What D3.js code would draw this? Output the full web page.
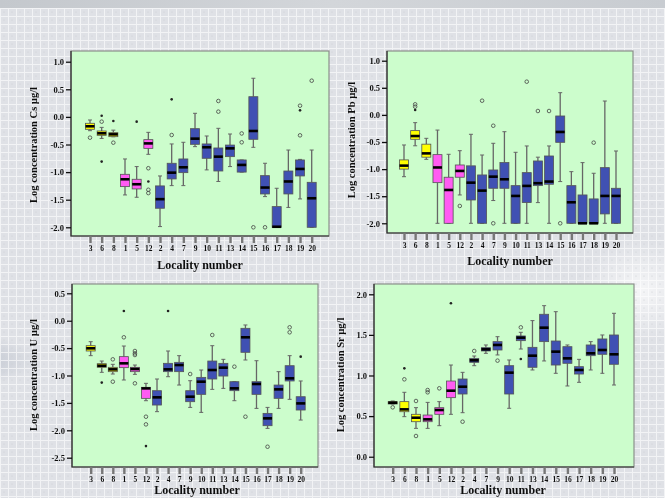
<!DOCTYPE html>
<html><head><meta charset="utf-8">
<script src="https://cdn.jsdelivr.net/npm/d3@7"></script>
<style>html,body{margin:0;padding:0;background:#dfe3ea;}svg{display:block;}</style>
</head><body>
<svg id="c" width="665" height="498"></svg>
<script>
// ---------- DATA ----------
const localities = ["3","6","8","1","5","12","2","4","7","9","10","11","13","14","15","16","17","18","19","20"];
const groups = ["A","A","A","B","B","B","C","C","C","C","C","C","C","C","C","C","C","C","C","C"];

// [lowWhisker, q1, median, q3, highWhisker]
const csStats = [
  [-0.25,-0.225,-0.17,-0.116,-0.056],[-0.39,-0.334,-0.297,-0.255,-0.19],[-0.36,-0.358,-0.316,-0.285,-0.24],
  [-1.414,-1.263,-1.13,-1.04,-0.762],[-1.456,-1.305,-1.22,-1.13,-0.90],[-0.678,-0.57,-0.48,-0.412,-0.28],
  [-1.987,-1.655,-1.49,-1.25,-1.07],[-1.245,-1.124,-1.01,-0.84,-0.49],[-1.245,-1.01,-0.913,-0.762,-0.46],
  [-0.539,-0.497,-0.394,-0.213,0.065],[-0.96,-0.75,-0.55,-0.49,-0.346],[-1.17,-0.98,-0.72,-0.563,-0.207],
  [-0.90,-0.72,-0.57,-0.51,-0.31],[-1.0,-1.0,-0.87,-0.78,-0.78],[-0.551,-0.406,-0.255,0.366,0.70],
  [-1.444,-1.396,-1.28,-1.064,-0.84],[-2.0,-2.0,-1.99,-1.625,-1.293],[-1.64,-1.396,-1.17,-0.98,-0.60],
  [-1.486,-1.07,-0.943,-0.78,-0.77],[-2.0,-2.0,-1.474,-1.185,-0.60]
];
const csOut = [[0,-0.376,"o"],[1,0.022,"*"],[1,-0.086,"o"],[1,-0.81,"*"],[2,-0.074,"*"],[2,-0.467,"o"],
  [4,-0.086,"*"],[5,-0.93,"o"],[5,-1.17,"*"],[5,-1.32,"o"],[5,-1.38,"o"],[7,0.318,"*"],[7,-0.328,"o"],
  [11,0.288,"o"],[11,0.095,"o"],[13,-0.30,"o"],[13,-0.46,"o"],[14,-2.0,"o"],[15,-2.0,"o"],
  [18,0.203,"o"],[18,0.119,"*"],[18,-0.334,"o"],[19,0.656,"o"]];

const pbStats = [
  [-1.14,-1.0,-0.936,-0.83,-0.555],[-0.57,-0.45,-0.39,-0.29,-0.143],[-0.82,-0.78,-0.71,-0.54,-0.432],
  [-2.0,-1.25,-0.97,-0.733,-0.28],[-2.0,-2.0,-1.385,-1.15,-0.727],[-1.477,-1.15,-1.034,-0.924,-0.66],
  [-2.0,-1.57,-1.25,-0.94,-0.358],[-2.0,-2.0,-1.397,-1.108,-0.74],[-1.58,-1.354,-1.139,-1.016,-0.524],
  [-2.0,-1.354,-1.188,-0.88,-0.31],[-2.0,-2.0,-1.495,-1.305,-0.69],[-2.0,-1.618,-1.31,-1.065,-0.573],
  [-1.618,-1.305,-1.26,-0.85,-0.78],[-2.0,-1.28,-1.23,-0.758,-0.573],[-1.23,-0.506,-0.315,-0.02,0.41],
  [-2.0,-2.0,-1.612,-1.305,-1.047],[-2.0,-2.0,-2.0,-1.477,-0.88],[-2.0,-2.0,-2.0,-1.55,-1.077],
  [-2.0,-1.827,-1.495,-0.973,0.256],[-2.0,-2.0,-1.495,-1.354,-0.666]
];
const pbOut = [[1,0.195,"o"],[1,0.152,"o"],[1,0.09,"*"],[5,-1.68,"o"],[7,0.262,"o"],[8,-0.2,"o"],[8,-2.0,"o"],
  [11,0.613,"o"],[12,0.072,"o"],[13,0.072,"o"],[14,-2.0,"o"],[17,-0.512,"o"]];

const uStats = [
  [-0.638,-0.553,-0.504,-0.456,-0.383],[-0.942,-0.851,-0.821,-0.784,-0.736],[-0.973,-0.93,-0.888,-0.851,-0.796],
  [-1.082,-0.857,-0.778,-0.656,-0.462],[-0.979,-0.93,-0.882,-0.851,-0.809],[-1.46,-1.417,-1.235,-1.216,-1.143],
  [-1.66,-1.539,-1.399,-1.277,-1.064],[-1.022,-0.93,-0.888,-0.778,-0.553],[-1.174,-0.93,-0.809,-0.76,-0.638],
  [-1.582,-1.478,-1.387,-1.277,-1.095],[-1.673,-1.344,-1.113,-1.034,-0.9],[-1.253,-1.064,-0.9,-0.736,-0.456],
  [-1.235,-1.01,-0.857,-0.778,-0.705],[-1.46,-1.277,-1.235,-1.113,-1.113],[-0.717,-0.577,-0.303,-0.139,-0.078],
  [-1.6,-1.344,-1.155,-1.113,-0.73],[-1.965,-1.916,-1.782,-1.691,-1.582],[-1.6,-1.417,-1.253,-1.174,-0.93],
  [-1.435,-1.1,-1.052,-0.821,-0.638],[-1.813,-1.63,-1.509,-1.387,-1.1]
];
const uOut = [[1,-1.13,"*"],[2,-0.705,"o"],[2,-1.113,"o"],[3,0.177,"*"],[3,-0.303,"o"],[4,-0.553,"o"],[4,-0.596,"o"],
  [4,-0.626,"o"],[4,-1.143,"o"],[5,-1.752,"o"],[5,-1.892,"o"],[5,-2.288,"*"],[7,0.177,"*"],[9,-0.973,"o"],
  [11,-0.261,"o"],[13,-0.839,"o"],[14,-1.752,"o"],[16,-2.3,"o"],[18,-0.121,"o"],[18,-0.212,"o"],[19,-0.656,"*"]];

const srStats = [
  [0.649,0.649,0.665,0.678,0.686],[0.493,0.554,0.583,0.678,0.793],[0.349,0.431,0.48,0.522,0.604],
  [0.349,0.431,0.46,0.513,0.669],[0.382,0.522,0.575,0.604,0.678],[0.522,0.727,0.813,0.932,1.129],
  [0.542,0.772,0.862,0.957,1.039],[1.121,1.162,1.187,1.211,1.24],[1.273,1.302,1.322,1.343,1.376],
  [1.253,1.314,1.376,1.417,1.478],[0.596,0.772,1.035,1.121,1.191],[1.326,1.429,1.466,1.487,1.532],
  [1.068,1.101,1.244,1.347,1.676],[1.179,1.417,1.589,1.754,1.86],[1.027,1.129,1.294,1.425,1.786],
  [0.871,1.15,1.211,1.355,1.376],[0.916,1.018,1.068,1.109,1.199],[1.068,1.244,1.273,1.376,1.417],
  [1.027,1.261,1.314,1.45,1.499],[0.883,1.138,1.261,1.499,1.766]
];
const srOut = [[0,0.608,"o"],[1,1.088,"*"],[1,0.953,"o"],[2,0.686,"o"],[2,0.255,"o"],[3,0.821,"o"],[3,0.793,"o"],
  [4,0.842,"o"],[5,1.889,"*"],[6,0.431,"o"],[7,1.302,"o"],[9,1.183,"o"],[11,1.593,"o"],[11,1.203,"*"]];

const csTicks = [-2.0,-1.5,-1.0,-0.5,0.0,0.5,1.0];
const pbTicks = [-2.0,-1.5,-1.0,-0.5,0.0,0.5,1.0];
const uTicks = [-2.5,-2.0,-1.5,-1.0,-0.5,0.0,0.5];
const srTicks = [0.0,0.5,1.0,1.5,2.0];

const yLabels = ["Log concentration Cs µg/l","Log concentration Pb µg/l","Log concentration U µg/l","Log concentration Sr µg/l"];
const xTitle = "Locality number";

// ---------- STYLE / LAYOUT ----------
const colors = {A:"#ffff00", B:"#ff5cf2", C:"#3f51b3"};
const panels = [
  {stats:csStats, out:csOut, ticks:csTicks, ylab:yLabels[0], rect:[71,51,258,185], yPix:[227.3,61.7], xr:[90,311.7], tx:200, ty:269, lx:35, ly:145},
  {stats:pbStats, out:pbOut, ticks:pbTicks, ylab:yLabels[1], rect:[387,51,246,182], yPix:[223.3,60.7], xr:[404,616], tx:510, ty:265, lx:353, ly:140},
  {stats:uStats, out:uOut, ticks:uTicks, ylab:yLabels[2], rect:[72,284,246,183], yPix:[457.7,293.3], xr:[90.7,300.7], tx:197, ty:494, lx:35, ly:375},
  {stats:srStats, out:srOut, ticks:srTicks, ylab:yLabels[3], rect:[374,284,260,183], yPix:[456.7,294.3], xr:[392.7,614], tx:503, ty:494, lx:342, ly:375}
];

const svg = d3.select("#c");
const defs = svg.append("defs");
// background texture
const pat = defs.append("pattern").attr("id","grid").attr("width",8).attr("height",8).attr("patternUnits","userSpaceOnUse");
pat.append("rect").attr("width",8).attr("height",8).attr("fill","none");
pat.append("path").attr("d","M0,0.5H8M0.5,0V8").attr("stroke","#ffffff").attr("stroke-width",1).attr("opacity",0.6);
pat.append("circle").attr("cx",4).attr("cy",4).attr("r",0.6).attr("fill","#c9ccd2");
const rg1 = defs.append("radialGradient").attr("id","cl1").attr("cx","0").attr("cy","0.5").attr("r","0.5");
rg1.append("stop").attr("offset","0").attr("stop-color","#96a0b2").attr("stop-opacity",0.75);
rg1.append("stop").attr("offset","1").attr("stop-color","#96a0b2").attr("stop-opacity",0);
const rg2 = defs.append("radialGradient").attr("id","cl2").attr("cx","0.5").attr("cy","0.5").attr("r","0.5");
rg2.append("stop").attr("offset","0").attr("stop-color","#ffffff").attr("stop-opacity",0.7);
rg2.append("stop").attr("offset","1").attr("stop-color","#ffffff").attr("stop-opacity",0);
const lg = defs.append("linearGradient").attr("id","topband").attr("x1",0).attr("x2",1);
lg.append("stop").attr("offset","0").attr("stop-color","#c4c8cd");
lg.append("stop").attr("offset","0.5").attr("stop-color","#d3d6da");
lg.append("stop").attr("offset","1").attr("stop-color","#c8ccd1");
const blur = defs.append("filter").attr("id","soft").attr("x","-5%").attr("y","-5%").attr("width","110%").attr("height","110%");
blur.append("feGaussianBlur").attr("stdDeviation",0.45);

svg.append("rect").attr("width",665).attr("height",498).attr("fill","#dfe1e6");
svg.append("ellipse").attr("cx",0).attr("cy",250).attr("rx",70).attr("ry",150).attr("fill","url(#cl1)");
svg.append("ellipse").attr("cx",40).attr("cy",360).attr("rx",120).attr("ry",30).attr("fill","url(#cl1)");
svg.append("ellipse").attr("cx",640).attr("cy",290).attr("rx",60).attr("ry",50).attr("fill","url(#cl2)");
svg.append("rect").attr("width",665).attr("height",498).attr("fill","url(#grid)");
svg.append("rect").attr("width",665).attr("height",8).attr("fill","url(#topband)");

const font = "'Liberation Serif','Times New Roman',serif";
const fmt = d => d.toFixed(1);

panels.forEach(p => {
  const g = svg.append("g").attr("filter","url(#soft)");
  const [rx, ry, rw, rh] = p.rect;
  const tmin = d3.min(p.ticks), tmax = d3.max(p.ticks);
  const y = d3.scaleLinear().domain([tmin, tmax]).range(p.yPix);
  const x = d3.scalePoint().domain(localities).range(p.xr);

  g.append("rect").attr("x",rx).attr("y",ry).attr("width",rw).attr("height",rh)
    .attr("fill","#ccfdcc").attr("stroke","#8a8f8a").attr("stroke-width",1.2);
  g.append("path").attr("d",`M${rx},${ry}V${ry+rh}H${rx+rw}`).attr("fill","none").attr("stroke","#2b2b2b").attr("stroke-width",1.2);

  // y axis
  const ya = g.append("g").attr("transform",`translate(${rx},0)`)
    .call(d3.axisLeft(y).tickValues(p.ticks).tickFormat(fmt).tickSize(5).tickPadding(2));
  ya.select(".domain").remove();
  ya.selectAll("line").attr("stroke","#111").attr("stroke-width",1.3);
  ya.selectAll("text").attr("font-family",font).attr("font-weight","bold").attr("font-size",8.5).attr("fill","#111");

  // x axis
  const xa = g.append("g").attr("transform",`translate(0,${ry+rh})`)
    .call(d3.axisBottom(x).tickSize(7).tickPadding(3));
  xa.select(".domain").remove();
  xa.selectAll("line").attr("stroke","#777").attr("stroke-width",2.4);
  xa.selectAll("text").attr("font-family",font).attr("font-weight","bold").attr("font-size",7.5).attr("fill","#111");

  // titles
  g.append("text").attr("x",p.tx).attr("y",p.ty).attr("text-anchor","middle")
    .attr("font-family",font).attr("font-weight","bold").attr("font-size",12).attr("fill","#111").text(xTitle);
  g.append("text").attr("transform",`translate(${p.lx},${p.ly}) rotate(-90)`).attr("text-anchor","middle")
    .attr("dominant-baseline","middle").attr("font-family",font).attr("font-weight","bold").attr("font-size",10.5)
    .attr("fill","#111").text(p.ylab);

  const bw = 9;
  const boxes = g.selectAll(".box").data(p.stats).join("g").attr("class","box");
  boxes.each(function(s, i){
    const b = d3.select(this);
    const cx = x(localities[i]);
    const [lo, q1, md, q3, hi] = s;
    b.append("line").attr("x1",cx).attr("x2",cx).attr("y1",y(hi)).attr("y2",y(q3)).attr("stroke","#666").attr("stroke-width",1.3);
    b.append("line").attr("x1",cx).attr("x2",cx).attr("y1",y(q1)).attr("y2",y(lo)).attr("stroke","#666").attr("stroke-width",1.3);
    b.append("line").attr("x1",cx-2).attr("x2",cx+2).attr("y1",y(hi)).attr("y2",y(hi)).attr("stroke","#666").attr("stroke-width",1);
    b.append("line").attr("x1",cx-2).attr("x2",cx+2).attr("y1",y(lo)).attr("y2",y(lo)).attr("stroke","#666").attr("stroke-width",1);
    b.append("rect").attr("x",cx-bw/2).attr("y",y(q3)).attr("width",bw).attr("height",Math.max(1,y(q1)-y(q3)))
      .attr("fill",colors[groups[i]]).attr("stroke","#555").attr("stroke-width",0.8);
    b.append("line").attr("x1",cx-bw/2).attr("x2",cx+bw/2).attr("y1",y(md)).attr("y2",y(md)).attr("stroke","#000").attr("stroke-width",2.6);
  });

  g.selectAll(".out").data(p.out).join("circle").attr("class","out")
    .attr("cx",d => x(localities[d[0]])).attr("cy",d => y(d[1]))
    .attr("r",d => d[2]==="o" ? 1.8 : 1.3)
    .attr("fill",d => d[2]==="o" ? "none" : "#222")
    .attr("stroke",d => d[2]==="o" ? "#444" : "none").attr("stroke-width",0.8);
});
</script>
</body></html>
